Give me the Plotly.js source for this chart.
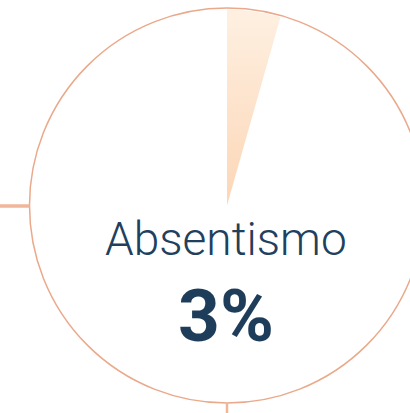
<!DOCTYPE html>
<html>
<head>
<meta charset="utf-8">
<script src="https://cdn.plot.ly/plotly-3.0.1.min.js"></script>
<style>html,body{margin:0;padding:0;background:#fff;}#chart{width:410px;height:413px;}</style>
</head>
<body>
<div id="chart"></div>
<script>
// Data
const categories = ['Absentismo'];
const valueLabels = ['3%'];
const wedgePercent = [4.4];   // share of the full circle covered by the shaded wedge

const R = 197.5;     // circle radius in axis units (1 unit = 1 px)
const wedgeR = 196;

// wedge polygon from its percentage (clockwise from 12 o'clock)
const wx = [0], wy = [0];
const endAngle = wedgePercent[0] / 100 * 2 * Math.PI;
const steps = 40;
for (let i = 0; i <= steps; i++) {
  const a = endAngle * i / steps;
  wx.push(wedgeR * Math.sin(a));
  wy.push(wedgeR * Math.cos(a));
}
wx.push(0); wy.push(0);

const traces = [{
  type: 'scatter',
  mode: 'lines',
  x: wx, y: wy,
  fill: 'toself',
  line: {width: 0, color: 'rgba(0,0,0,0)'},
  fillgradient: {type: 'vertical', colorscale: [[0, '#fcd6b6'], [1, '#fef0e1']]},
  hoverinfo: 'skip',
  name: categories[0]
}];

const layout = {
  width: 410, height: 413,
  margin: {l: 0, r: 0, t: 0, b: 0},
  paper_bgcolor: '#ffffff', plot_bgcolor: '#ffffff',
  showlegend: false,
  xaxis: {range: [-227, 183], visible: false, fixedrange: true},
  yaxis: {range: [-207.5, 205.5], visible: false, fixedrange: true},
  shapes: [
    {type: 'circle', xref: 'x', yref: 'y', x0: -R, x1: R, y0: -R, y1: R,
     line: {color: '#eaa98b', width: 1.5}},
    {type: 'line', xref: 'x', yref: 'y', x0: -227, x1: -R, y0: -0.5, y1: -0.5,
     line: {color: '#f1b69a', width: 3.5}},
    {type: 'line', xref: 'x', yref: 'y', x0: 0, x1: 0, y0: -R, y1: -207.5,
     line: {color: '#f1b69a', width: 2.5}}
  ],
  annotations: [
    {xref: 'x', yref: 'y', x: -1, y: -33, text: categories[0], showarrow: false,
     xanchor: 'center', yanchor: 'middle',
     font: {family: 'Roboto', size: 46, weight: 300, color: '#21405d'}},
    {xref: 'x', yref: 'y', x: -1, y: -110, text: valueLabels[0], showarrow: false,
     xanchor: 'center', yanchor: 'middle',
     font: {family: 'Roboto', size: 73, weight: 700, color: '#1e3d5b'}}
  ]
};

Plotly.newPlot('chart', traces, layout, {displayModeBar: false, staticPlot: true});
</script>
</body>
</html>
